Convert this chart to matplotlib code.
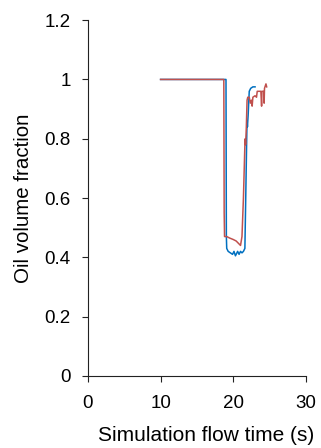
import matplotlib
matplotlib.use("Agg")
import matplotlib.pyplot as plt

# blue series (x in s, oil volume fraction)
blue_x = [10, 19.0, 19.05, 19.1, 19.3, 19.6, 19.9, 20.1, 20.3, 20.6, 20.8, 21.0,
          21.2, 21.4, 21.6, 21.75, 21.85, 21.9, 21.95, 22.05, 22.2, 22.4, 22.7, 23.0]
blue_y = [1.0, 1.0, 0.47, 0.43, 0.42, 0.415, 0.41, 0.42, 0.405, 0.42, 0.41, 0.42,
          0.415, 0.42, 0.43, 0.65, 0.80, 0.86, 0.84, 0.88, 0.96, 0.97, 0.975, 0.975]

# red series
red_x = [10, 18.7, 18.75, 18.8, 19.1, 19.5, 20.0, 20.4, 20.8, 21.0, 21.2, 21.4,
         21.6, 21.65, 21.7, 21.8, 21.9, 22.0, 22.2, 22.35, 22.5, 22.6, 22.7, 23.0,
         23.2, 23.3, 23.6, 23.8, 23.9, 23.95, 24.2, 24.25, 24.3, 24.5, 24.6]
red_y = [1.0, 1.0, 0.55, 0.47, 0.47, 0.465, 0.46, 0.455, 0.445, 0.44, 0.47, 0.6,
         0.78, 0.80, 0.78, 0.84, 0.93, 0.94, 0.94, 0.92, 0.93, 0.91, 0.94, 0.945,
         0.94, 0.96, 0.96, 0.96, 0.91, 0.96, 0.96, 0.92, 0.97, 0.985, 0.975]

x_ticks = [0, 10, 20, 30]
y_ticks = [0, 0.2, 0.4, 0.6, 0.8, 1.0, 1.2]
y_tick_labels = ["0", "0.2", "0.4", "0.6", "0.8", "1", "1.2"]

plt.rcParams['font.family'] = ['Liberation Sans', 'DejaVu Sans']

fig = plt.figure(figsize=(3.21, 4.48), dpi=100)
ax = fig.add_axes([0.274, 0.161, 0.679, 0.794])

ax.plot(blue_x, blue_y, color='#0070C0', linewidth=1.1)
ax.plot(red_x, red_y, color='#C0504D', linewidth=1.1)

ax.set_xlim(0, 30)
ax.set_ylim(0, 1.2)
ax.set_xticks(x_ticks)
ax.set_yticks(y_ticks)
ax.set_yticklabels(y_tick_labels)

for side in ['top', 'right']:
    ax.spines[side].set_visible(False)
for side in ['left', 'bottom']:
    ax.spines[side].set_linewidth(0.8)
    ax.spines[side].set_color('#222222')

ax.tick_params(direction='out', length=4.5, width=0.8, labelsize=13.5, color='#222222')
ax.tick_params(axis='x', pad=9)
ax.tick_params(axis='y', pad=8)
ax.set_xlabel('Simulation flow time (s)', fontsize=15)
ax.set_ylabel('Oil volume fraction', fontsize=14.8)
ax.xaxis.set_label_coords(0.54, -0.14)
ax.yaxis.set_label_coords(-0.25, 0.5)

fig.savefig('out.png', dpi=100)
